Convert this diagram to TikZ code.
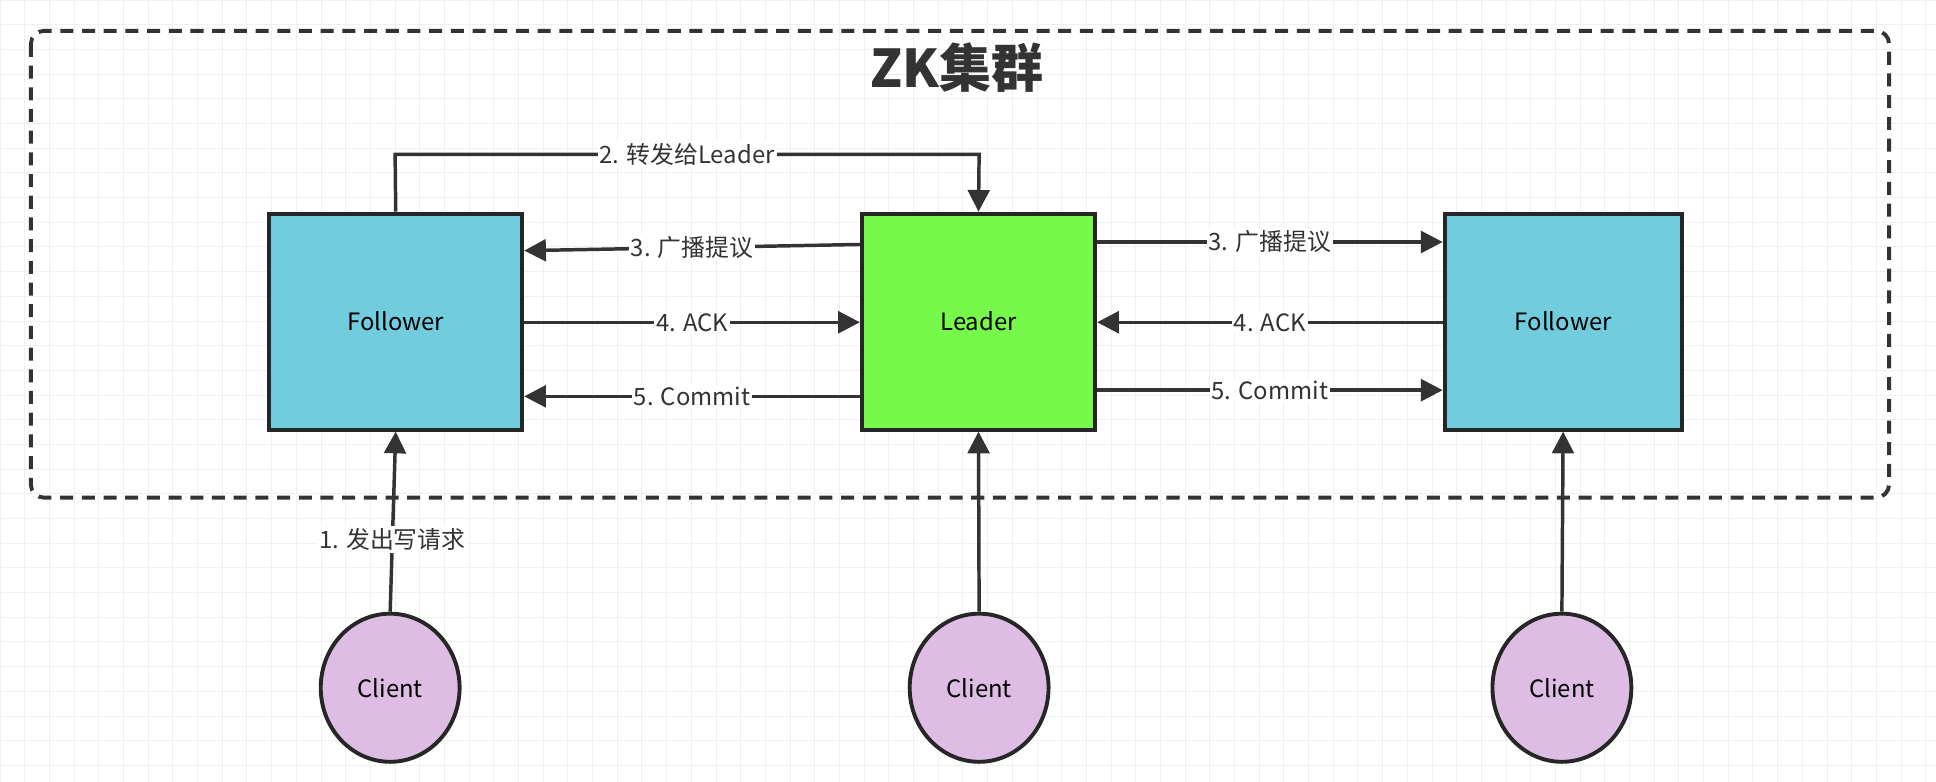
\documentclass[tikz,border=0pt]{standalone}
\usepackage{fontspec}
\setmainfont{Noto Sans CJK SC}
\usetikzlibrary{arrows.meta,shapes.geometric}

\tikzset{
    box/.style = {draw=black!85, line width=1.8pt, minimum width=#1, minimum height=3.5cm, inner sep=0pt},
    client/.style = {ellipse, draw=black!85, line width=1.8pt, fill=clientpink, minimum width=2.25cm, minimum height=2.4cm},
    flow/.style = {draw=black!80, line width=1.6pt, -{Triangle[length=10pt,width=10pt]}},
    lbl/.style = {fill=white, inner sep=1pt, font=\fontsize{11}{13}\selectfont, text=black!80},
}
\definecolor{followerblue}{HTML}{71CCDE}
\definecolor{leadergreen}{HTML}{77F94B}
\definecolor{clientpink}{HTML}{DDBDE3}

\begin{document}
\begin{tikzpicture}[x=0.02cm, y=-0.02cm]
        \useasboundingbox (0,0) rectangle (1568,633);
        \draw[step=0.4cm, color=black!6] (0,0) grid (1568,633);

        \draw[black!80, line width=1.8pt, dash pattern=on 6pt off 4pt, rounded corners=6pt] (25,25) rectangle (1530,403);
        \node[font = {\fontsize{24}{27}\selectfont\bfseries}, black!80] (title) at (775,55) {ZK集群};

        \node[box=4.1cm, fill=followerblue, font={\fontsize{11}{13}\selectfont}] (f1) at (320.5,260.5) {Follower};
        \node[box=3.78cm, fill=leadergreen, font={\fontsize{11}{13}\selectfont}] (ld) at (792.5,260.5) {Leader};
        \node[box=3.84cm, fill=followerblue, font={\fontsize{11}{13}\selectfont}] (f2) at (1266,260.5) {Follower};

        \node[client, font={\fontsize{11}{13}\selectfont}] (c1) at (316,557) {Client};
        \node[client, font={\fontsize{11}{13}\selectfont}] (c2) at (793,557) {Client};
        \node[client, font={\fontsize{11}{13}\selectfont}] (c3) at (1265,557) {Client};

        % forward to leader
        \coordinate (up1) at (320,125);
        \coordinate (up2) at (793,125);
        \draw[flow] (f1.north) -- (up1) -- node[lbl] {2. 转发给Leader} (up2) -- (ld.north);

        % left side
        \draw[flow] (ld.west |- 0,198) -- node[lbl] {3. 广播提议} (f1.east |- 0,203);
        \draw[flow] (f1.east |- 0,261) -- node[lbl] {4. ACK} (ld.west |- 0,261);
        \draw[flow] (ld.west |- 0,321) -- node[lbl] {5. Commit} (f1.east |- 0,321);

        % right side
        \draw[flow] (ld.east |- 0,196) -- node[lbl] {3. 广播提议} (f2.west |- 0,196);
        \draw[flow] (f2.west |- 0,261) -- node[lbl] {4. ACK} (ld.east |- 0,261);
        \draw[flow] (ld.east |- 0,316) -- node[lbl] {5. Commit} (f2.west |- 0,316);

        % clients
        \draw[flow] (c1.north) -- node[lbl, pos=0.4] {1. 发出写请求} (f1.south);
        \draw[flow] (c2.north) -- (ld.south);
        \draw[flow] (c3.north) -- (f2.south);
\end{tikzpicture}
\end{document}
